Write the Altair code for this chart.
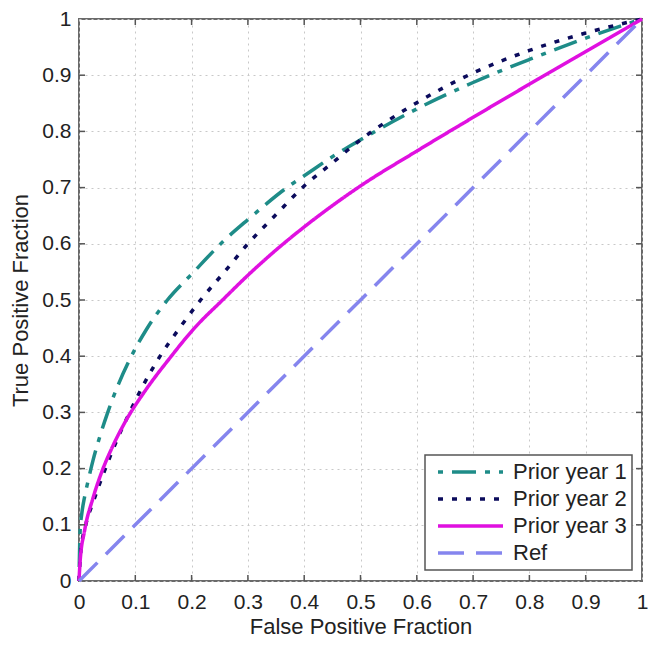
import altair as alt
import pandas as pd

series_names = ["Prior year 1", "Prior year 2", "Prior year 3", "Ref"]

fpr1 = [0, 0.002, 0.005, 0.01, 0.0166, 0.025, 0.037, 0.05, 0.07, 0.09, 0.12, 0.157, 0.2, 0.259, 0.3, 0.372, 0.4, 0.45, 0.5, 0.526, 0.6, 0.7, 0.8, 0.9, 1.0]
tpr1 = [0, 0.09, 0.12, 0.15, 0.18, 0.215, 0.257, 0.297, 0.35, 0.394, 0.448, 0.5, 0.546, 0.607, 0.643, 0.702, 0.721, 0.755, 0.785, 0.8, 0.84, 0.887, 0.928, 0.966, 1.0]

fpr2 = [0, 0.003, 0.012, 0.025, 0.045, 0.067, 0.09, 0.115, 0.144, 0.18, 0.216, 0.26, 0.30, 0.35, 0.399, 0.45, 0.5, 0.55, 0.6, 0.7, 0.8, 0.9, 1.0]
tpr2 = [0, 0.05, 0.1, 0.14, 0.195, 0.25, 0.3, 0.35, 0.4, 0.452, 0.5, 0.552, 0.6, 0.652, 0.702, 0.744, 0.785, 0.82, 0.851, 0.904, 0.944, 0.975, 1.0]

fpr3 = [0, 0.002, 0.01, 0.025, 0.04, 0.06, 0.082, 0.12, 0.16, 0.205, 0.255, 0.3, 0.35, 0.4, 0.464, 0.5, 0.6, 0.7, 0.8, 0.9, 1.0]
tpr3 = [0, 0.035, 0.09, 0.148, 0.193, 0.24, 0.283, 0.342, 0.395, 0.45, 0.5, 0.544, 0.589, 0.63, 0.678, 0.703, 0.765, 0.825, 0.884, 0.942, 1.0]

fpr_ref = [0, 1]
tpr_ref = [0, 1]

axis_values = [0, 0.1, 0.2, 0.3, 0.4, 0.5, 0.6, 0.7, 0.8, 0.9, 1]
inner_ticks = [0.1, 0.2, 0.3, 0.4, 0.5, 0.6, 0.7, 0.8, 0.9]

colors = ["#1e8c88", "#0b0b5c", "#e010e0", "#8585ee"]
dashes = [[5, 9, 24, 9], [5, 9], [1, 0], [26, 12]]

rows = []
for name, xs, ys in zip(series_names, [fpr1, fpr2, fpr3, fpr_ref], [tpr1, tpr2, tpr3, tpr_ref]):
    for i, (xv, yv) in enumerate(zip(xs, ys)):
        rows.append({"series": name, "fpr": xv, "tpr": yv, "order": i})
df = pd.DataFrame(rows)
ticks_df = pd.DataFrame({"v": inner_ticks})
legend_df = pd.DataFrame({"series": series_names})
box_df = pd.DataFrame({"one": [1]})

FONT = "Liberation Sans"
W, H = 563, 562

x_scale = alt.Scale(domain=[0, 1], nice=False, zero=False)
y_scale = alt.Scale(domain=[0, 1], nice=False, zero=False)
color_scale = alt.Scale(domain=series_names, range=colors)
dash_scale = alt.Scale(domain=series_names, range=dashes)
legend_y = alt.Scale(type="point", domain=series_names, range=[453, 534], padding=0)

lines = alt.Chart(df).mark_line(strokeWidth=3.5, interpolate="monotone").encode(
    x=alt.X("fpr:Q", scale=x_scale,
            axis=alt.Axis(values=axis_values, format="~g", title="False Positive Fraction",
                          labelPadding=10, titleY=52, titleBaseline="alphabetic",
                          labelFlush=False, labelOverlap=False)),
    y=alt.Y("tpr:Q", scale=y_scale,
            axis=alt.Axis(values=axis_values, format="~g", title="True Positive Fraction",
                          labelPadding=8, titleX=-52, titleY=281, titleBaseline="alphabetic",
                          labelFlush=False, labelOverlap=False)),
    color=alt.Color("series:N", scale=color_scale, legend=None),
    strokeDash=alt.StrokeDash("series:N", scale=dash_scale, legend=None),
    order="order:Q",
)

tick_color = "#555"
xt_bottom = alt.Chart(ticks_df).mark_rule(color=tick_color, strokeWidth=1.5).encode(
    x=alt.X("v:Q", scale=x_scale), y=alt.value(H), y2=alt.value(H - 6))
xt_top = alt.Chart(ticks_df).mark_rule(color=tick_color, strokeWidth=1.5).encode(
    x=alt.X("v:Q", scale=x_scale), y=alt.value(0), y2=alt.value(6))
yt_left = alt.Chart(ticks_df).mark_rule(color=tick_color, strokeWidth=1.5).encode(
    y=alt.Y("v:Q", scale=y_scale, axis=None), x=alt.value(0), x2=alt.value(6))
yt_right = alt.Chart(ticks_df).mark_rule(color=tick_color, strokeWidth=1.5).encode(
    y=alt.Y("v:Q", scale=y_scale, axis=None), x=alt.value(W), x2=alt.value(W - 6))

leg_box = alt.Chart(box_df).mark_rect(fill="white", stroke="#555", strokeWidth=1.5).encode(
    x=alt.value(346), x2=alt.value(553), y=alt.value(436), y2=alt.value(551))
leg_sym = alt.Chart(legend_df).mark_rule(strokeWidth=3.5).encode(
    x=alt.value(359), x2=alt.value(424),
    y=alt.Y("series:N", scale=legend_y, axis=None),
    color=alt.Color("series:N", scale=color_scale, legend=None),
    strokeDash=alt.StrokeDash("series:N", scale=dash_scale, legend=None),
)
leg_txt = alt.Chart(legend_df).mark_text(align="left", baseline="middle", fontSize=22,
                                         font=FONT, color="#222").encode(
    x=alt.value(434),
    y=alt.Y("series:N", scale=legend_y, axis=None),
    text="series:N",
)

chart = alt.layer(lines, xt_bottom, xt_top, yt_left, yt_right, leg_box, leg_sym, leg_txt).resolve_scale(
    y="independent"
).properties(
    width=W, height=H,
    autosize=alt.AutoSizeParams(type="none"),
    padding={"left": 71, "top": 11, "right": 6, "bottom": 57},
).configure_view(
    stroke="#6a6a6a", strokeWidth=2
).configure_axis(
    domain=False, tickSize=0, grid=True, gridDash=[2, 4], gridColor="#c8c8c8", gridWidth=1,
    labelFontSize=21, titleFontSize=22, labelFont=FONT, titleFont=FONT,
    labelColor="#222", titleColor="#222", titleFontWeight="normal",
)

chart.save("out.html", embed_options={"renderer": "svg", "actions": False})
